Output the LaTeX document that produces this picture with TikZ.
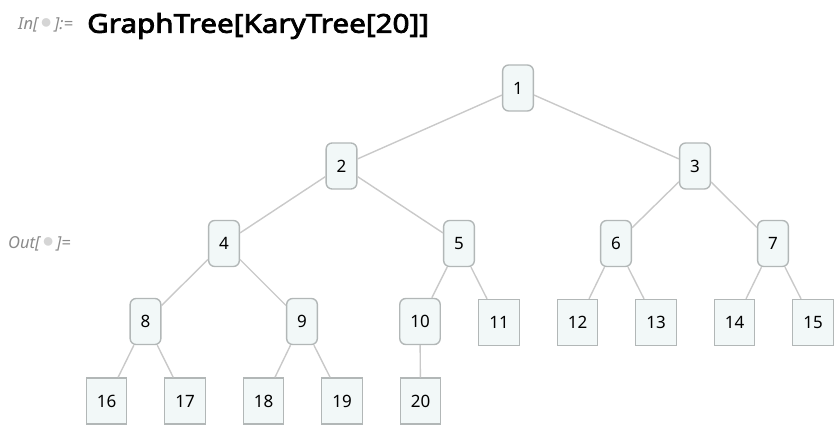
\documentclass[tikz,border=0pt]{standalone}
\usepackage{fontspec}
\setmainfont{Noto Sans}
\newfontfamily\titlefont{Noto Sans}[FakeBold=3, FakeStretch=1.14]
\definecolor{nodefill}{HTML}{F2F8F8}
\definecolor{nodeborder}{HTML}{B2B7B7}
\definecolor{edgecol}{HTML}{C9C9C9}
\definecolor{promptgray}{HTML}{8A8A8A}
\definecolor{bulletgray}{HTML}{D5D5D5}
\tikzset{
  inner/.style={draw=nodeborder, fill=nodefill, line width=1.4pt, rounded corners=6pt,
    minimum height=46pt, inner xsep=10.5pt, inner ysep=0pt, font=\fontsize{17}{17}\selectfont},
  leaf/.style={draw=nodeborder, fill=nodefill, line width=1.4pt,
    minimum height=46pt, inner xsep=10.5pt, inner ysep=0pt, font=\fontsize{17}{17}\selectfont},
  edge/.style={draw=edgecol, line width=1.4pt},
  prompt/.style={text=promptgray, font=\fontsize{16.5}{16.5}\selectfont\itshape, inner sep=0pt, anchor=west}
}
\newcommand{\pbullet}{\raisebox{0.1ex}{\textcolor{bulletgray}{\scalebox{1.3}{$\bullet$}}}}
\begin{document}
\begin{tikzpicture}[x=1pt,y=-1pt]
\useasboundingbox (0,0) rectangle (836,430);
% prompts and title
\node[prompt] (inp) at (18,25) {In[\,\pbullet\,]:=};
\node[prompt] (outp) at (8,244) {Out[\,\pbullet\,]=};
\node[anchor=west, inner sep=0pt, font=\fontsize{26}{26}\selectfont\titlefont] (title) at (87,26) {GraphTree[KaryTree[20]]};
% nodes
\node[inner] (n1) at (518,88) {1};
\node[inner] (n2) at (341.5,166) {2};
\node[inner] (n3) at (695,166) {3};
\node[inner] (n4) at (224,243.5) {4};
\node[inner] (n5) at (459,243.5) {5};
\node[inner] (n6) at (616,243.5) {6};
\node[inner] (n7) at (773,243.5) {7};
\node[inner] (n8) at (145.5,321.5) {8};
\node[inner] (n9) at (302,321.5) {9};
\node[inner] (n10) at (420,321.5) {10};
\node[leaf] (n11) at (499,322.5) {11};
\node[leaf] (n12) at (577.5,322.5) {12};
\node[leaf] (n13) at (656,322.5) {13};
\node[leaf] (n14) at (734.5,322.5) {14};
\node[leaf] (n15) at (813,322.5) {15};
\node[leaf] (n16) at (106.5,401) {16};
\node[leaf] (n17) at (185,401) {17};
\node[leaf] (n18) at (263.5,401) {18};
\node[leaf] (n19) at (342,401) {19};
\node[leaf] (n20) at (420.5,401) {20};
% edges
\path[edge] (n1) -- (n2);
\path[edge] (n1) -- (n3);
\path[edge] (n2) -- (n4);
\path[edge] (n2) -- (n5);
\path[edge] (n3) -- (n6);
\path[edge] (n3) -- (n7);
\path[edge] (n4) -- (n8);
\path[edge] (n4) -- (n9);
\path[edge] (n5) -- (n10);
\path[edge] (n5) -- (n11);
\path[edge] (n6) -- (n12);
\path[edge] (n6) -- (n13);
\path[edge] (n7) -- (n14);
\path[edge] (n7) -- (n15);
\path[edge] (n8) -- (n16);
\path[edge] (n8) -- (n17);
\path[edge] (n9) -- (n18);
\path[edge] (n9) -- (n19);
\path[edge] (n10) -- (n20);
\end{tikzpicture}
\end{document}
